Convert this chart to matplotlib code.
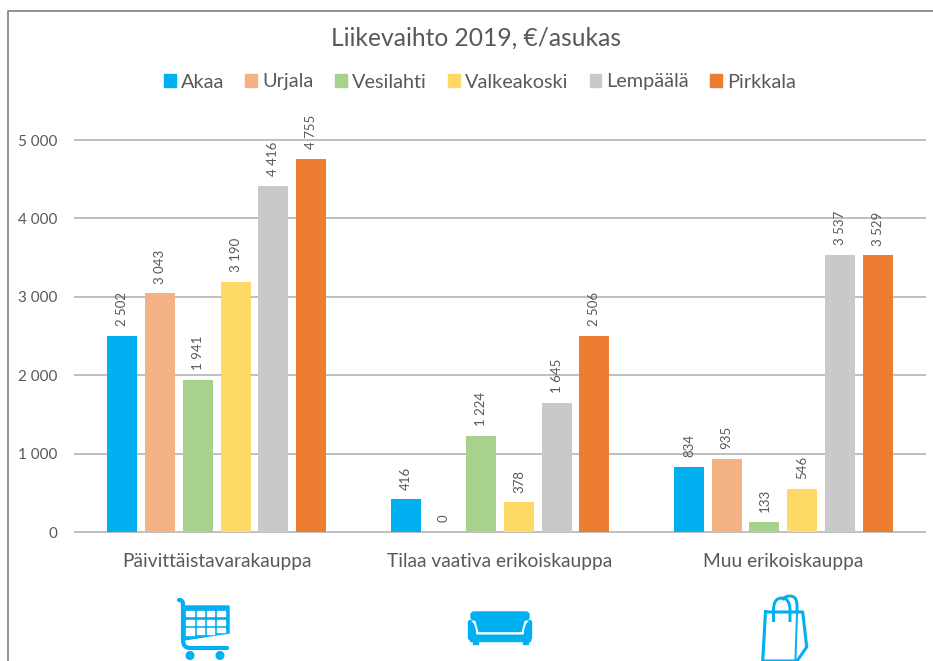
import matplotlib
matplotlib.use("Agg")
import matplotlib.pyplot as plt
from matplotlib.patches import Polygon, Rectangle, Circle, FancyBboxPatch, PathPatch
from matplotlib.path import Path
from matplotlib.lines import Line2D

plt.rcParams['font.family'] = ['Lato', 'DejaVu Sans']

categories = ["Päivittäistavarakauppa", "Tilaa vaativa erikoiskauppa", "Muu erikoiskauppa"]
akaa = [2502, 416, 834]
urjala = [3043, 0, 935]
vesilahti = [1941, 1224, 133]
valkeakoski = [3190, 378, 546]
lempaala = [4416, 1645, 3537]
pirkkala = [4755, 2506, 3529]
names = ["Akaa", "Urjala", "Vesilahti", "Valkeakoski", "Lempäälä", "Pirkkala"]
colors = ["#00B0F0", "#F4B183", "#A9D18E", "#FFD966", "#C9C9C9", "#ED7D31"]
yticks = [0, 1000, 2000, 3000, 4000, 5000]
title = "Liikevaihto 2019, €/asukas"
TXT = "#595959"
W, H = 933, 661


def fmt(v):
    return f"{v:,}".replace(",", " ")


fig = plt.figure(figsize=(W / 100, H / 100), dpi=100, facecolor="white")
ax = fig.add_axes([75 / W, 1 - 532 / H, 850 / W, 392 / H])
ax.set_xlim(0, 3)
ax.set_ylim(0, 5000)
ax.patch.set_alpha(0)
for s in ax.spines.values():
    s.set_visible(False)
ax.set_yticks(yticks, [fmt(t) for t in yticks], fontsize=11, color=TXT)
ax.set_xticks([0.5, 1.5, 2.5], categories, fontsize=13.8, color=TXT)
ax.tick_params(axis='both', length=0)
ax.tick_params(axis='y', pad=13)
ax.tick_params(axis='x', pad=15)
ax.grid(axis='y', color="#BFBFBF", lw=1.4, clip_on=False)
ax.set_axisbelow(True)

pitch = 37.75 / 283.33
bw = 30 / 283.33
series = [akaa, urjala, vesilahti, valkeakoski, lempaala, pirkkala]
for i, (vals, c, n) in enumerate(zip(series, colors, names)):
    xs = [g + 0.5 + (i - 2.5) * pitch for g in range(3)]
    ax.bar(xs, vals, bw, color=c, label=n, zorder=2)
    for x, v in zip(xs, vals):
        ax.annotate(fmt(v), (x, v), xytext=(0, 7), textcoords="offset points",
                    rotation=90, ha="center", va="bottom", fontsize=9.5, color=TXT)

fig.text(476.5 / W, 1 - 38 / H, title, ha="center", va="center", fontsize=17.7, color=TXT)
handles = [Rectangle((0, 0), 1, 1, color=c) for c in colors]
fig.legend(handles, names, loc="center", bbox_to_anchor=(480 / W, 1 - 82 / H), ncol=6,
           frameon=False, fontsize=14.3, labelcolor=TXT, handlelength=0.6, handleheight=0.6,
           handletextpad=0.25, columnspacing=1.07, borderpad=0)

# overlay in pixel coordinates for the frame and the icons
ov = fig.add_axes([0, 0, 1, 1], zorder=5)
ov.set_xlim(0, W)
ov.set_ylim(H, 0)
ov.axis("off")
ov.add_line(Line2D([7.5, 7.5, W], [H, 10.5, 10.5], color="#7F7F7F", lw=1.2))

BL = "#00B0F0"
# cart
ov.add_patch(Polygon([(184, 606), (229, 606), (229, 633), (184, 640)], color=BL))
for cx in [(186, 193.5), (196.5, 204), (206.5, 214), (217, 225)]:
    for j, cy in enumerate([(611, 616), (620, 624.5), (628, 634)]):
        y0, y1 = cy
        if j == 2 and cx[0] == 217:
            y1 = 632
        if j == 2 and cx[0] == 186:
            y1 = 635
        ov.add_patch(Rectangle((cx[0], y0), cx[1] - cx[0], y1 - y0, color="white"))
ov.add_patch(PathPatch(Path([(179, 600), (183, 600), (183, 604), (183, 640), (183, 648), (190, 648), (227, 648)],
                            [Path.MOVETO, Path.CURVE3, Path.CURVE3, Path.LINETO, Path.CURVE3, Path.CURVE3, Path.LINETO]),
                       fc="none", ec=BL, lw=3, capstyle="round"))
ov.add_patch(Circle((190, 655.5), 3.8, color=BL))
ov.add_patch(Circle((220, 655.5), 3.8, color=BL))

# sofa
ov.add_patch(FancyBboxPatch((470, 622), 4, 16, boxstyle="round,pad=1.5,rounding_size=2", color=BL))
ov.add_patch(FancyBboxPatch((526, 622), 4, 16, boxstyle="round,pad=1.5,rounding_size=2", color=BL))
ov.add_patch(Rectangle((470, 634), 60, 7, color=BL))
ov.add_patch(Rectangle((473, 640), 4.5, 4, color=BL))
ov.add_patch(Rectangle((523, 640), 4.5, 4, color=BL))
ov.add_patch(PathPatch(Path([(472, 620), (476, 621), (478, 633), (522, 633), (524, 621), (528, 620)],
                            [Path.MOVETO, Path.CURVE3, Path.CURVE3, Path.LINETO, Path.CURVE3, Path.CURVE3]),
                       fc="none", ec="white", lw=2.2))
ov.add_patch(FancyBboxPatch((473, 614), 54, 4, boxstyle="round,pad=2,rounding_size=3", color=BL))
ov.add_patch(Polygon([(475, 617), (479, 631.5), (521, 631.5), (525, 617)], color=BL))

# bag
ov.add_line(Line2D([765.5, 762.7, 797, 806.7, 802.7, 765.5], [612, 661, 661, 647, 612, 612],
                   color=BL, lw=2.2, solid_joinstyle="round"))
ov.add_line(Line2D([797, 795.5, 795.5], [613, 658, 661], color=BL, lw=1.4))
ov.add_patch(PathPatch(Path([(773.5, 622), (773.5, 610), (773.5, 598), (781.5, 598), (790, 598), (790, 610), (790, 622)],
                            [Path.MOVETO, Path.LINETO, Path.CURVE3, Path.CURVE3, Path.CURVE3, Path.CURVE3, Path.LINETO]),
                       fc="none", ec=BL, lw=2.1))
ov.add_patch(PathPatch(Path([(782, 600), (785, 596), (790, 596), (797, 596), (797, 605), (797, 612)],
                            [Path.MOVETO, Path.CURVE3, Path.CURVE3, Path.CURVE3, Path.CURVE3, Path.LINETO]),
                       fc="none", ec=BL, lw=2.1))

fig.savefig("out.png", dpi=100)
